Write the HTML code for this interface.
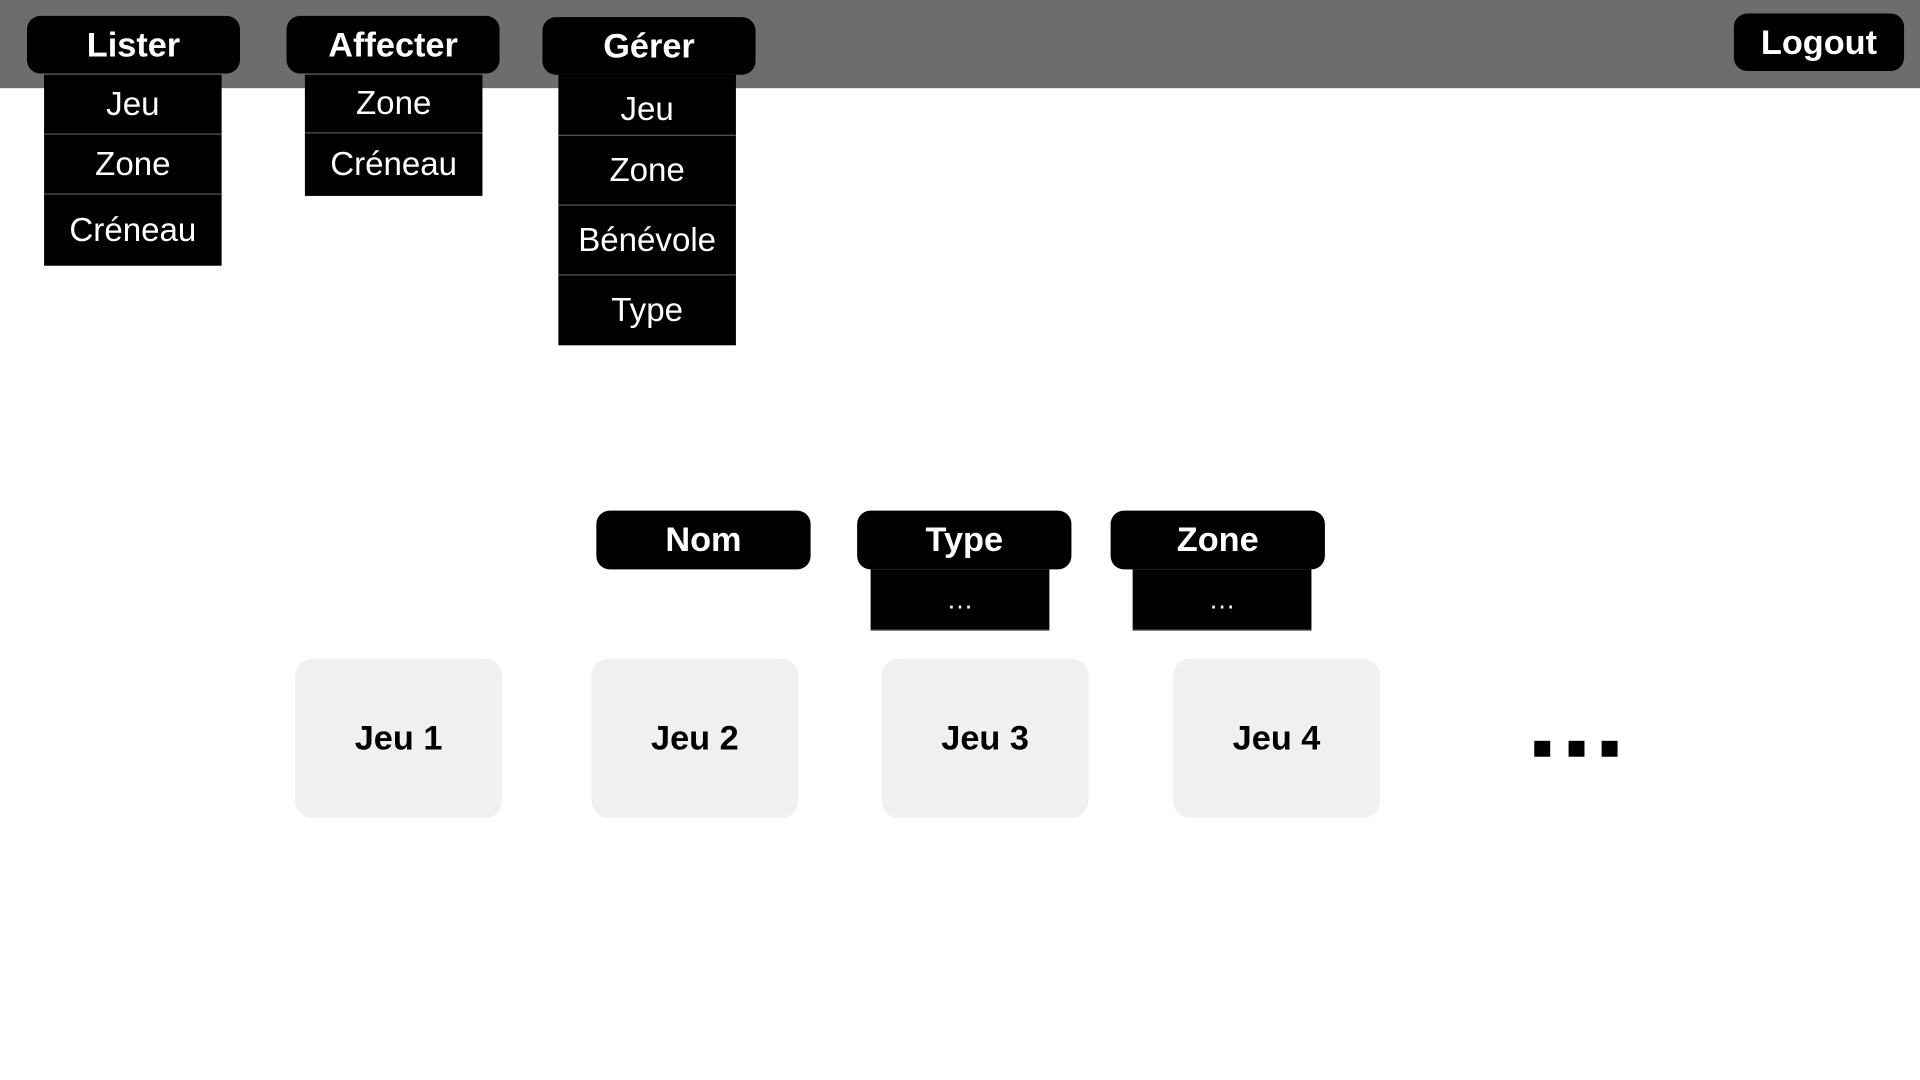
<!DOCTYPE html>
<html><head><meta charset="utf-8"><style>
html,body{margin:0;padding:0;width:1920px;height:1080px;overflow:hidden;background:#fff;font-family:"Liberation Sans",sans-serif}
#c{position:absolute;left:0;top:0;width:1568px;height:882px;transform:scale(1.22449);transform-origin:0 0}
.a{position:absolute;box-sizing:border-box}
.bar{left:0;top:0;width:1568px;height:72px;background:#6d6d6d}
.btn{background:#000;color:#fff;font-weight:bold;font-size:28px;border-radius:11px;display:flex;align-items:center;justify-content:center}
.menu{background:#000}
.it{color:#fff;font-size:27px;display:flex;align-items:center;justify-content:center;border-bottom:1px solid #555;box-sizing:border-box}
.it:last-child{border-bottom:none}
.card{background:#f0f0f0;border-radius:14px;font-weight:bold;font-size:28px;display:flex;align-items:center;justify-content:center;color:#000}
.sq{width:13px;height:13px;background:#000;top:605px}
</style></head><body><div id="c">
<div class="a bar"></div>
<div class="a btn" style="left:22px;top:13px;width:174px;height:47px">Lister</div>
<div class="a menu" style="left:36px;top:61px;width:145px;height:156px">
<div class="it" style="height:49px">Jeu</div><div class="it" style="height:49px">Zone</div><div class="it" style="height:58px">Créneau</div></div>
<div class="a btn" style="left:234px;top:13px;width:174px;height:47px">Affecter</div>
<div class="a menu" style="left:249px;top:61px;width:145px;height:99px">
<div class="it" style="height:48px">Zone</div><div class="it" style="height:51px">Créneau</div></div>
<div class="a btn" style="left:443px;top:14px;width:174px;height:47px">Gérer</div>
<div class="a menu" style="left:456px;top:61px;width:145px;height:221px">
<div class="it" style="height:50px;padding-top:8px">Jeu</div><div class="it" style="height:57px">Zone</div><div class="it" style="height:57px">Bénévole</div><div class="it" style="height:57px">Type</div></div>
<div class="a btn" style="left:1416px;top:11px;width:139px;height:47px">Logout</div>
<div class="a btn" style="left:487px;top:417px;width:175px;height:48px">Nom</div>
<div class="a btn" style="left:700px;top:417px;width:175px;height:48px">Type</div>
<div class="a btn" style="left:907px;top:417px;width:175px;height:48px">Zone</div>
<div class="a menu it" style="left:711px;top:465px;width:146px;height:50px;font-size:22px">…</div>
<div class="a menu it" style="left:925px;top:465px;width:146px;height:50px;font-size:22px">…</div>
<div class="a card" style="left:241px;top:538px;width:169px;height:130px">Jeu 1</div>
<div class="a card" style="left:483px;top:538px;width:169px;height:130px">Jeu 2</div>
<div class="a card" style="left:720px;top:538px;width:169px;height:130px">Jeu 3</div>
<div class="a card" style="left:958px;top:538px;width:169px;height:130px">Jeu 4</div>
<div class="a sq" style="left:1253px"></div>
<div class="a sq" style="left:1281px"></div>
<div class="a sq" style="left:1308px"></div>
</div></body></html>
